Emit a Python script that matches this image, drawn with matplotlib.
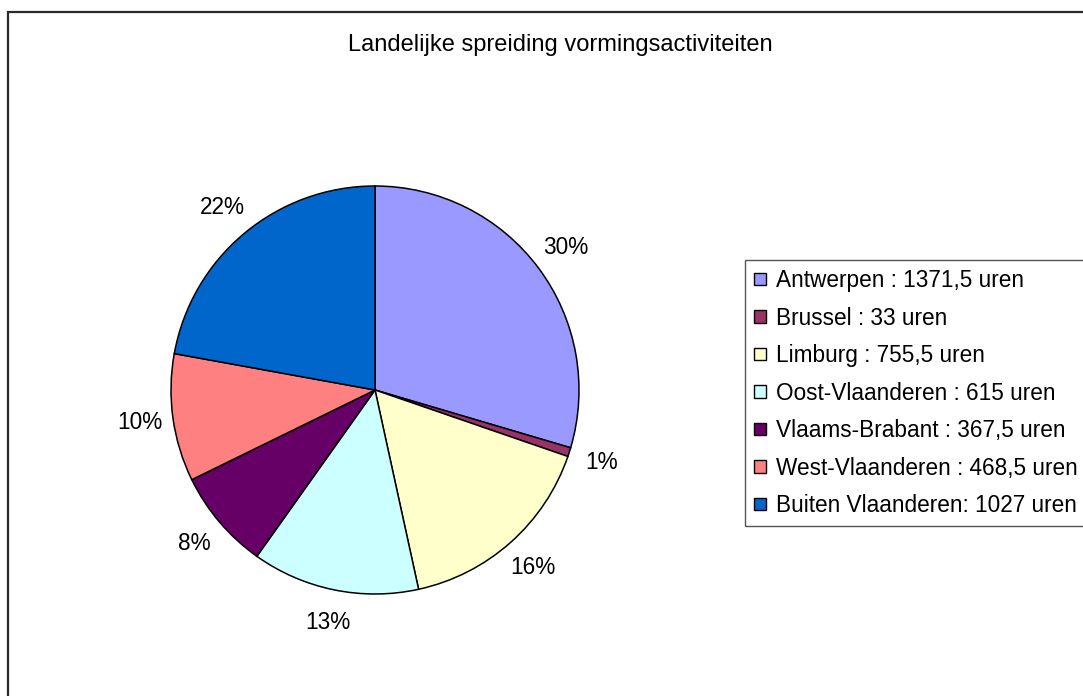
import matplotlib
matplotlib.use("Agg")
import matplotlib.pyplot as plt
from matplotlib.patches import Rectangle

plt.rcParams['font.family'] = ['Liberation Sans', 'DejaVu Sans']

title = "Landelijke spreiding vormingsactiviteiten"
regions = ["Antwerpen : 1371,5 uren", "Brussel : 33 uren", "Limburg : 755,5 uren",
           "Oost-Vlaanderen : 615 uren", "Vlaams-Brabant : 367,5 uren",
           "West-Vlaanderen : 468,5 uren", "Buiten Vlaanderen: 1027 uren"]
hours = [1371.5, 33, 755.5, 615, 367.5, 468.5, 1027]
colors = ["#9999FF", "#993366", "#FFFFCC", "#CCFFFF", "#660066", "#FF8080", "#0066CC"]

W, H = 1083, 696
fig = plt.figure(figsize=(W / 100, H / 100), dpi=100)

# outer chart border (right and bottom run off the image)
fig.patches.append(Rectangle((7.5 / W, -0.05), 1.2, (H - 12.5) / H + 0.05,
                             transform=fig.transFigure, fill=False,
                             edgecolor="#2a2a2a", linewidth=1.6))

cx, cy, r = 375, 390, 204
ax = fig.add_axes([(cx - r) / W, (H - cy - r) / H, 2 * r / W, 2 * r / H])
wedges, texts, pcts = ax.pie(hours, colors=colors, startangle=90, counterclock=False,
                             autopct=lambda p: f"{p:.0f}%", pctdistance=1.165,
                             wedgeprops=dict(edgecolor="black", linewidth=1.1),
                             textprops=dict(fontsize=16.3, color="black"))
ax.set_xlim(-1, 1)
ax.set_ylim(-1, 1)

fig.text(560 / W, 1 - 45 / H, title, ha="center", va="center", fontsize=17)

leg = fig.legend(wedges, regions, loc="upper left",
                 bbox_to_anchor=(745 / W, 1 - 260 / H), fontsize=16.3,
                 frameon=True, fancybox=False, framealpha=1,
                 edgecolor="#555555", borderpad=0.4, labelspacing=0.64,
                 handlelength=0.53, handleheight=0.5, handletextpad=0.45,
                 borderaxespad=0)
leg.get_frame().set_linewidth(1.0)
for h in leg.legend_handles:
    h.set_edgecolor("black")
    h.set_linewidth(1.0)

fig.savefig("out.png", dpi=100)
